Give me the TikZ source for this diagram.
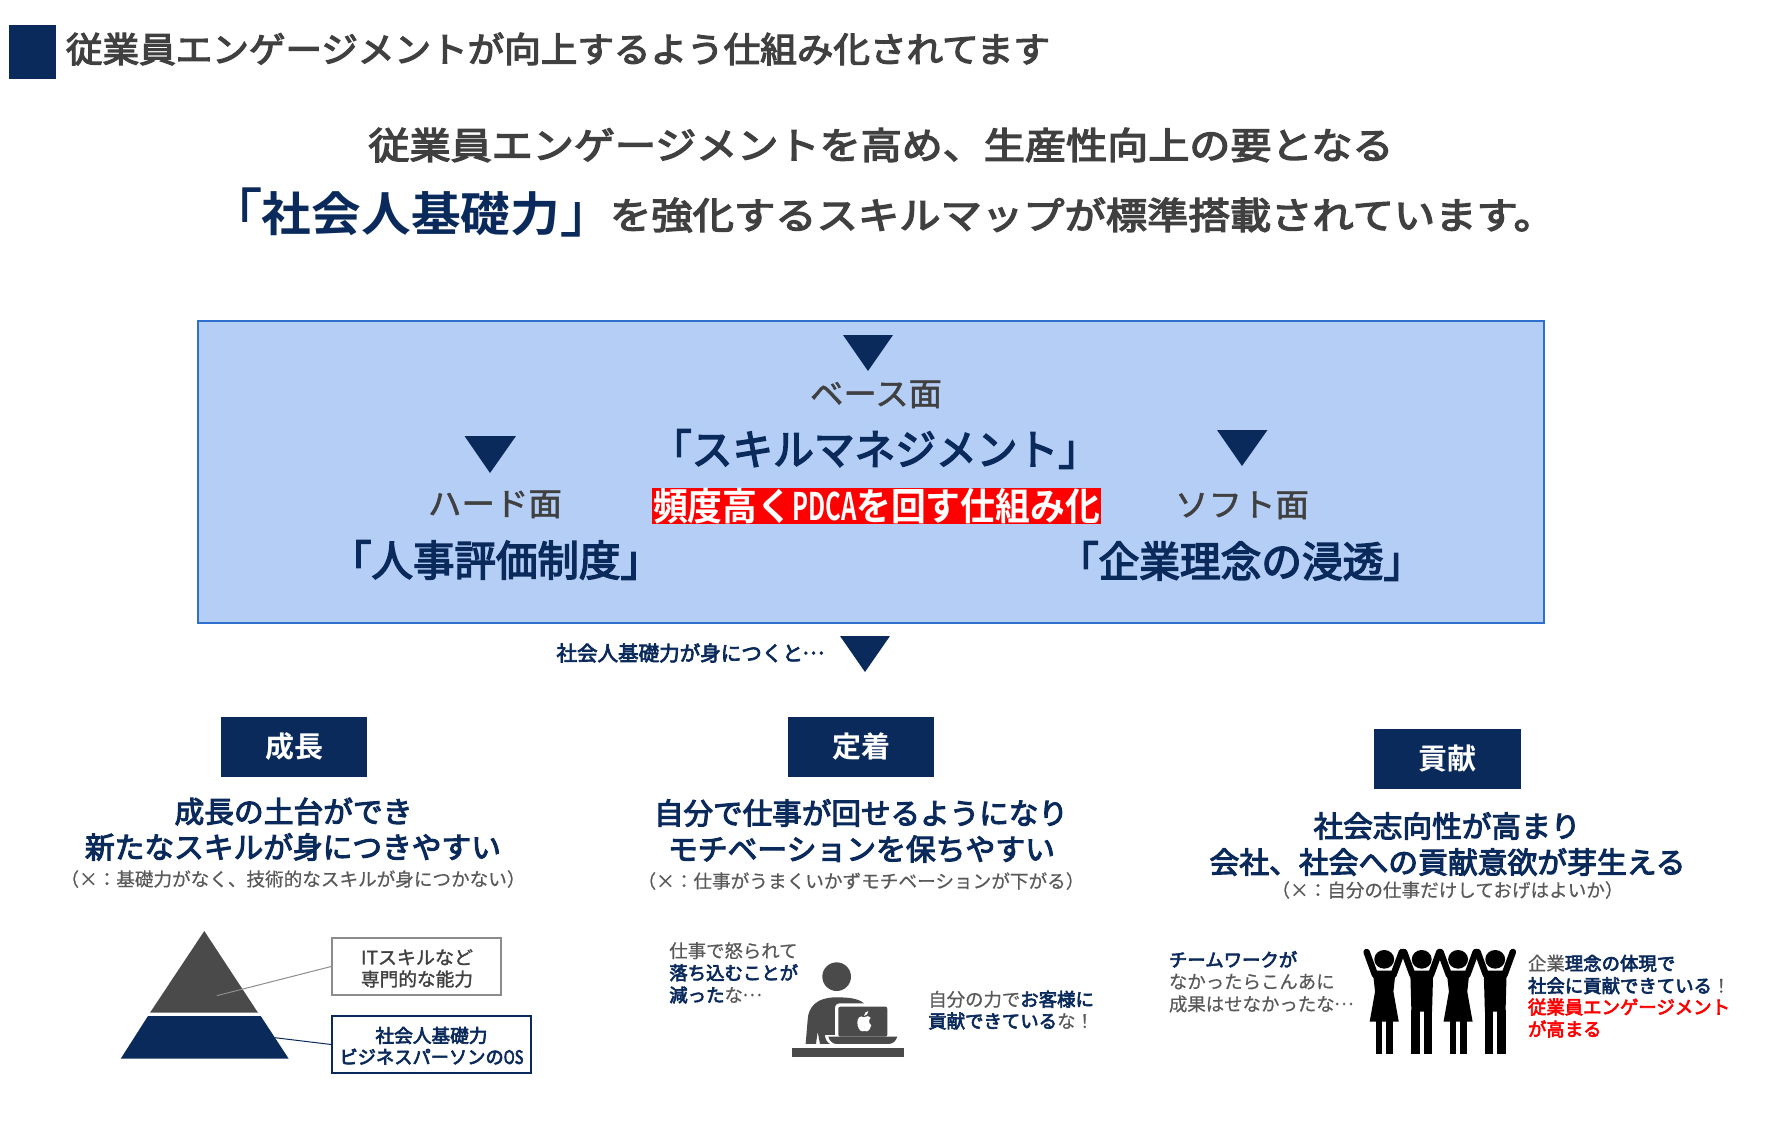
\documentclass[tikz,border=0pt]{standalone}
\usepackage{fontspec}
\usepackage{graphicx}
\newfontfamily\jpr[FakeBold=0.6]{Noto Sans CJK JP}
\newfontfamily\jpn[FakeBold=1.6]{Noto Sans CJK JP}
\newfontfamily\jpm[FakeBold=3.5]{Noto Sans CJK JP}
\newfontfamily\jpb{Noto Sans CJK JP Bold}
\definecolor{navy}{HTML}{0B2A5C}
\definecolor{txt}{HTML}{404040}
\definecolor{soft}{HTML}{595959}
\definecolor{panel}{HTML}{B4CEF6}
\definecolor{edge}{HTML}{2F6FCE}
\definecolor{dark}{HTML}{4A4A4A}
% width, size, font and colour, text
\newcommand\TT[4]{\resizebox{#1pt}{\height}{\fontsize{#2}{#2}\selectfont #3\vphantom{国}#4}}
\newcommand\NV[1]{{\jpm\color{navy}#1}}
\newcommand\RD[1]{{\jpm\color{red}#1}}
\newcommand\EL{\makebox[1em][c]{\raisebox{0.32em}{…}}}
\newcommand\NAR[2]{\resizebox{#1pt}{\height}{#2}}
\tikzset{
  txtn/.style={inner sep=0pt,outer sep=0pt,anchor=center},
  lft/.style={inner sep=0pt,outer sep=0pt,anchor=west,font=\fontsize{18.4}{18.4}\selectfont\jpr,text=soft},
  tag/.style={fill=navy,inner sep=0pt,minimum width=146pt,minimum height=60pt},
  tri/.style={fill=navy},
  labelbox/.style={fill=white,line width=1.6pt,inner sep=0pt,minimum height=57pt}
}
\begin{document}
\begin{tikzpicture}[x=1pt,y=-1pt]
\useasboundingbox (0,0) rectangle (1765,1140);
% header
\node (hdsq) [fill=navy,inner sep=0pt,minimum width=47pt,minimum height=54pt] at (32.5,52) {};
\node (hd) [txtn] at (558,49) {\TT{984}{35}{\jpm\color{txt}}{従業員エンゲージメントが向上するよう仕組み化されてます}};
\node (sub1) [txtn] at (881,145) {\TT{1025}{37}{\jpm\color{txt}}{従業員エンゲージメントを高め、生産性向上の要となる}};
\node (sub2a) [txtn] at (411,212) {\TT{408}{47}{\jpb\color{navy}}{{\jpn\fontsize{52}{52}\selectfont 「}{\jpb 社会人基礎力}{\jpn\fontsize{52}{52}\selectfont 」}}};
\node (sub2b) [txtn] at (1082.5,215) {\TT{945}{37}{\jpm\color{txt}}{を強化するスキルマップが標準搭載されています。}};
% panel
\node (panel) [fill=panel,draw=edge,line width=1.6pt,inner sep=0pt,minimum width=1346pt,minimum height=302pt] at (871,472) {};
\fill[tri] (843,335) -- (893,335) -- (868,371) -- cycle;
\fill[tri] (464.5,436) -- (516,436) -- (490,473) -- cycle;
\fill[tri] (1217,430) -- (1267.5,430) -- (1242,466) -- cycle;
\fill[tri] (840,636) -- (890,636) -- (865,672) -- cycle;
\node (base) [txtn] at (876,394) {\TT{132}{32}{\jpn\color{txt}}{ベース面}};
\node (skill) [txtn] at (875,449) {\TT{448}{42}{\jpm\color{navy}}{「スキルマネジメント」}};
\node (pdca) [fill=red,inner sep=0pt,minimum width=449pt,minimum height=35pt] at (876.5,506) {\TT{447}{38}{\jpb\color{white}}{頻度高く\NAR{70}{PDCA}を回す仕組み化}};
\node (hard) [txtn] at (495,504) {\TT{134}{32}{\jpn\color{txt}}{ハード面}};
\node (hr) [txtn] at (496,560) {\TT{332}{42}{\jpm\color{navy}}{「人事評価制度」}};
\node (soft) [txtn] at (1242,505) {\TT{134}{32}{\jpn\color{txt}}{ソフト面}};
\node (rinen) [txtn] at (1241,561) {\TT{366}{42}{\jpm\color{navy}}{「企業理念の浸透」}};
\node (onset) [txtn] at (690,653) {\TT{267}{20.5}{\jpm\color{navy}}{社会人基礎力が身につくと\EL}};
% tags
\node (t1) [tag] at (294,747) {\TT{58}{29}{\jpb\color{white}}{成長}};
\node (t2) [tag] at (861,747) {\TT{58}{29}{\jpb\color{white}}{定着}};
\node (t3) [tag,minimum width=147pt] at (1447.5,759) {\TT{58}{29}{\jpb\color{white}}{貢献}};
% headings
\node (a1) [txtn] at (293.5,811.5) {\TT{238}{29.5}{\jpm\color{navy}}{成長の土台ができ}};
\node (a2) [txtn] at (293,847) {\TT{416}{29.5}{\jpm\color{navy}}{新たなスキルが身につきやすい}};
\node (a3) [txtn] at (293,879) {\TT{465}{18.5}{\jpr\color{soft}}{（×：基礎力がなく、技術的なスキルが身につかない）}};
\node (b1) [txtn] at (861,813) {\TT{414}{29.5}{\jpm\color{navy}}{自分で仕事が回せるようになり}};
\node (b2) [txtn] at (861.5,849) {\TT{387}{29.5}{\jpm\color{navy}}{モチベーションを保ちやすい}};
\node (b3) [txtn] at (861,881) {\TT{447}{18.5}{\jpr\color{soft}}{（×：仕事がうまくいかずモチベーションが下がる）}};
\node (c1) [txtn] at (1447,826) {\TT{267}{29.5}{\jpm\color{navy}}{社会志向性が高まり}};
\node (c2) [txtn] at (1447.5,862) {\TT{476}{29.5}{\jpm\color{navy}}{会社、社会への貢献意欲が芽生える}};
\node (c3) [txtn] at (1447.5,890) {\TT{352}{18.5}{\jpr\color{soft}}{（×：自分の仕事だけしておげはよいか）}};
% pyramid
\fill[dark] (204.3,931) -- (258,1012.7) -- (150,1012.7) -- cycle;
\fill[navy] (148,1016) -- (260.7,1016) -- (288.7,1058.7) -- (120.7,1058.7) -- cycle;
\node (box1) [labelbox,draw=gray!90,minimum width=169pt] at (416.5,966.5) {};
\node (box2) [labelbox,draw=navy,minimum width=199pt] at (431.5,1044.5) {};
\node (b1a) [txtn] at (417,957.5) {\TT{112}{18.5}{\jpn\color{txt}}{ITスキルなど}};
\node (b1b) [txtn] at (417,979) {\TT{112}{18.5}{\jpn\color{txt}}{専門的な能力}};
\node (b2a) [txtn] at (431.5,1035.5) {\TT{112}{18.5}{\jpm\color{navy}}{社会人基礎力}};
\node (b2b) [txtn] at (431.5,1057) {\TT{184}{18.5}{\jpm\color{navy}}{ビジネスパーソンの\NAR{20}{OS}}};
\coordinate (pu) at (216.7,995.7);
\coordinate (pl) at (275,1037.7);
\draw[gray!90,line width=1pt] (pu) -- (box1.west);
\draw[navy,line width=1pt] (pl) -- (box2.west);
% person at desk
\begin{scope}[shift={(640,920)},x=0.3333pt,y=-0.3333pt]
\fill[dark] (590,170) ellipse (43 and 43);
\fill[dark] (497,372) -- (503,300) .. controls (505,260) and (530,232) .. (590,232) .. controls (625,232) and (655,235) .. (672,250) -- (600,250) .. controls (590,250) and (585,255) .. (585,265) -- (585,345) -- (555,345) .. controls (555,358) and (562,367) .. (570,372) -- (540,372) -- (533,335) -- (528,372) -- cycle;
\fill[dark,rounded corners=2pt] (595,260) rectangle (742,350);
\fill[dark] (565,350) -- (772,350) .. controls (768,362) and (760,372) .. (745,372) -- (590,372) .. controls (578,372) and (568,362) .. (565,350) -- cycle;
\fill[dark] (456,385) rectangle (792,410);
\fill[white] (672,292) .. controls (660,284) and (652,295) .. (652,308) .. controls (652,322) and (660,334) .. (667,334) .. controls (670,334) and (674,331) .. (680,334) .. controls (686,334) and (692,324) .. (694,316) .. controls (685,310) and (686,298) .. (692,294) .. controls (686,286) and (678,288) .. (672,292) -- cycle;
\fill[white] (672,288) .. controls (672,280) and (678,274) .. (685,273) .. controls (685,281) and (680,287) .. (672,288) -- cycle;
\end{scope}
\node (p1) [lft] at (669.3,950.7) {仕事で怒られて};
\node (p2) [lft] at (669.3,972.7) {\NV{落ち込むことが}};
\node (p3) [lft] at (669.3,995) {\NV{減った}な\EL};
\node (p4) [lft] at (928.3,999.3) {自分の力で\NV{お客様に}};
\node (p5) [lft] at (928.3,1021) {\NV{貢献できている}な！};
% team
\begin{scope}[shift={(1150,930)},x=0.3827pt,y=-0.3333pt]
\foreach \cx in {612,805}{
  \fill[black] (\cx,88) ellipse (26 and 28);
  \fill[black] (\cx-30,122) -- (\cx+30,122) -- (\cx+24,185) -- (\cx+38,275) -- (\cx-38,275) -- (\cx-24,185) -- cycle;
  \fill[black] (\cx-22,270) rectangle (\cx-5,372);
  \fill[black] (\cx+5,270) rectangle (\cx+24,372);
}
\foreach \cx in {710,902}{
  \fill[black] (\cx,88) ellipse (26 and 28);
  \fill[black] (\cx-30,122) -- (\cx+30,122) -- (\cx+27,245) -- (\cx-27,245) -- cycle;
  \fill[black] (\cx-27,240) rectangle (\cx-5,372);
  \fill[black] (\cx+5,240) rectangle (\cx+27,372);
}
\foreach \cx in {612,710,805,902}{
  \draw[black,line width=6.5pt,line cap=round] (\cx-24,135) -- (\cx-46,66);
  \draw[black,line width=6.5pt,line cap=round] (\cx+24,135) -- (\cx+46,66);
}
\end{scope}
\node (q1) [lft] at (1169,959.3) {\NV{チームワークが}};
\node (q2) [lft] at (1169,981.7) {なかったらこんあに};
\node (q3) [lft] at (1169,1004) {成果はせなかったな\EL};
\node (r1) [lft] at (1528,963.3) {企業\NV{理念の体現で}};
\node (r2) [lft] at (1528,985.7) {\NV{社会に貢献できている}！};
\node (r3) [lft] at (1528,1007) {\RD{従業員エンゲージメント}};
\node (r4) [lft] at (1528,1029) {\RD{が高まる}};
\end{tikzpicture}
\end{document}
